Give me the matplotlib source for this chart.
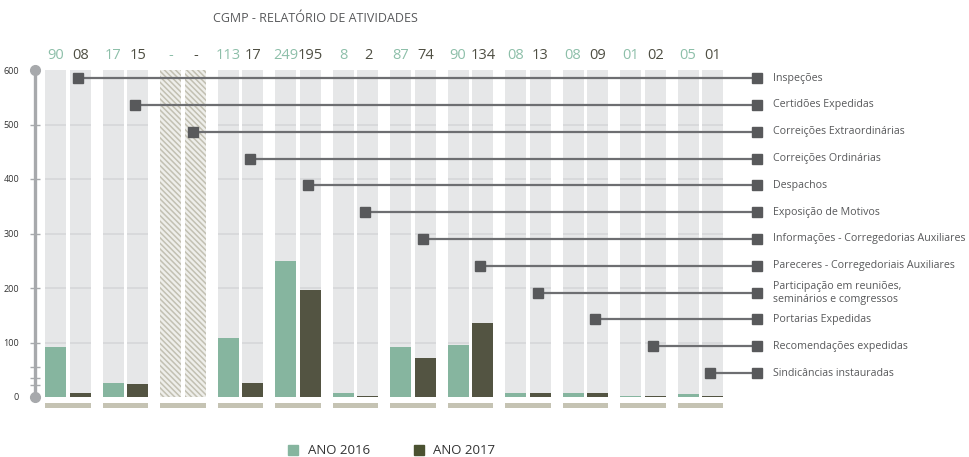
import numpy as np
import matplotlib
matplotlib.use("Agg")
import matplotlib.pyplot as plt
from matplotlib.lines import Line2D

plt.rcParams["font.family"] = ["Open Sans", "DejaVu Sans"]
plt.rcParams["hatch.linewidth"] = 1.1

# ── Data ─────────────────────────────────────────────────────────────────────

categories = [
    "Inspeções",
    "Certidões Expedidas",
    "Correições Extraordinárias",
    "Correições Ordinárias",
    "Despachos",
    "Exposição de Motivos",
    "Informações - Corregedorias Auxiliares",
    "Pareceres - Corregedoriais Auxiliares",
    "Participação em reuniões,\nseminários e comgressos",
    "Portarias Expedidas",
    "Recomendações expedidas",
    "Sindicâncias instauradas",
]

labels_2016 = ["90", "17", "-", "113", "249", "8", "87", "90", "08", "08", "01", "05"]
labels_2017 = ["08", "15", "-", "17", "195", "2", "74", "134", "13", "09", "02", "01"]

# bar heights as drawn in the original (they don't always match the labels)
bars_2016 = [91, 26, 0, 108, 250, 7, 92, 95, 7, 7, 2, 5]
bars_2017 = [8, 24, 0, 26, 196, 2, 71, 136, 7, 7, 2, 2]

y_ticks = [0, 100, 200, 300, 400, 500, 600]
y_max = 600

# ── Colours ──────────────────────────────────────────────────────────────────

C2016 = "#86b59f"
C2017 = "#535442"
T2016 = "#8dbfa9"
T2017 = "#4f4f43"
BG = "#e6e7e8"
GRID = "#d6d7d9"
STRIP = "#c5c3b3"
AXIS = "#a7a9ac"
CALLOUT = "#6d6e71"
SQUARE = "#58595b"
TEXT = "#58595b"

# ── Plot ─────────────────────────────────────────────────────────────────────

fig = plt.figure(figsize=(9.69, 4.57), dpi=100)
ax = fig.add_axes([35 / 969, 60 / 457, 695 / 969, 327 / 457])

n = len(categories)
x = np.arange(n)
off = 0.217
w = 0.365

for i in range(n):
    no_data = labels_2016[i] == "-" and labels_2017[i] == "-"
    for xx in (x[i] - off, x[i] + off):
        if no_data:
            ax.bar(xx, y_max, width=w, color="#eeeeea", edgecolor="#c2c0b2",
                   hatch="\\\\\\\\\\\\", linewidth=0, zorder=1)
        else:
            ax.bar(xx, y_max, width=w, color=BG, linewidth=0, zorder=1)
            ax.hlines(y_ticks[1:-1], xx - w / 2, xx + w / 2, color=GRID,
                      linewidth=1.2, zorder=1.5)
    # strip under each group
    ax.bar(x[i], -9, bottom=-11, width=2 * off + w, color=STRIP,
           linewidth=0, clip_on=False, zorder=1)

ax.bar(x - off, bars_2016, width=w, color=C2016, linewidth=0, zorder=2)
ax.bar(x + off, bars_2017, width=w, color=C2017, linewidth=0, zorder=2)

# value labels above the bars
for i in range(n):
    ax.text(x[i] - off, 627, labels_2016[i], ha="center", va="center",
            fontsize=10.5, color=T2016)
    ax.text(x[i] + off, 627, labels_2017[i], ha="center", va="center",
            fontsize=10.5, color=T2017)

# callouts to category names
callout_y = np.linspace(585, 44, n)
x_end = 11.98
for i in range(n):
    xs = x[i] + off - 0.05
    ax.plot([xs, x_end], [callout_y[i]] * 2, color=CALLOUT, linewidth=1.6,
            clip_on=False, zorder=3)
    ax.plot([xs, x_end], [callout_y[i]] * 2, linestyle="none", marker="s",
            markersize=6.5, color=SQUARE, clip_on=False, zorder=4)
    ax.text(12.26, callout_y[i], categories[i], ha="left", va="center",
            fontsize=7.7, color=TEXT, linespacing=1.25, clip_on=False)

# ── Styling ──────────────────────────────────────────────────────────────────

ax.set_xlim(-0.574, 11.513)
ax.set_ylim(0, y_max)
for s in ("top", "right", "bottom"):
    ax.spines[s].set_visible(False)
ax.spines["left"].set_color(AXIS)
ax.spines["left"].set_linewidth(2.4)
ax.set_xticks([])
ax.set_yticks(y_ticks)
ax.set_yticks([22, 35, 55], minor=True)
ax.tick_params(axis="y", which="both", direction="inout", length=7, width=1,
               color=AXIS, labelsize=6.5, labelcolor="#333333", pad=8)
ax.plot([-0.574, -0.574], [0, y_max], linestyle="none", marker="o",
        markersize=7, color=AXIS, clip_on=False, zorder=5)

fig.text(315 / 969, 1 - 19 / 457, "CGMP - RELATÓRIO DE ATIVIDADES",
         ha="center", va="center", fontsize=9, color=TEXT)

handles = [
    Line2D([0], [0], linestyle="none", marker="s", markersize=7, color=C2016),
    Line2D([0], [0], linestyle="none", marker="s", markersize=7, color="#4b5231"),
]
fig.legend(handles, ["ANO 2016", "ANO 2017"], loc="center",
           bbox_to_anchor=(391 / 969, 6 / 457), ncol=2, frameon=False,
           fontsize=9.5, handletextpad=0.6, columnspacing=3.2,
           labelcolor="#333333", handlelength=1.0)

fig.savefig("out.png", dpi=100)
